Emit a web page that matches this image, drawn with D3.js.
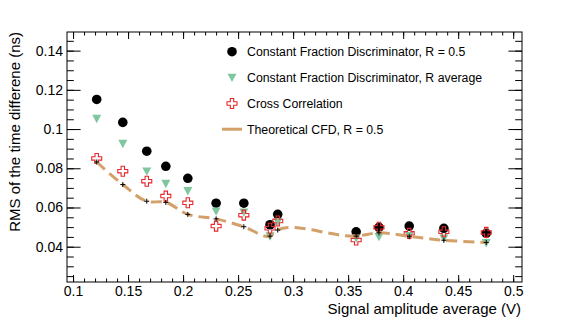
<!DOCTYPE html>
<html>
<head>
<meta charset="utf-8">
<script src="https://cdn.jsdelivr.net/npm/d3@7"></script>
<style>
  body { margin: 0; background: #fff; }
  text { font-family: "Liberation Sans", Arial, sans-serif; }
</style>
</head>
<body>
<div id="chart"></div>
<script>
// signal amplitude average (V) for each measurement
const amplitude = [0.1215, 0.1452, 0.1670, 0.1843, 0.2043, 0.2300, 0.2552, 0.2790, 0.2860, 0.3573, 0.3780, 0.4055, 0.4370, 0.4755];
// RMS of the time difference (ns)
const cfdHalf   = [0.1151, 0.1034, 0.0887, 0.0810, 0.0749, 0.0622, 0.0622, 0.0512, 0.0565, 0.0476, 0.0499, 0.0505, 0.0494, 0.0468];
const cfdAvg    = [0.1053, 0.0926, 0.0785, 0.0722, 0.0685, 0.0581, 0.0576, 0.0454, 0.0527, 0.0443, 0.0451, 0.0456, 0.0443, 0.0420];
const crossCorr = [0.0850, 0.0785, 0.0734, 0.0658, 0.0624, 0.0505, 0.0561, 0.0494, 0.0531, 0.0434, 0.0499, 0.0468, 0.0476, 0.0473];
const theoCfd   = [0.0832, 0.0717, 0.0632, 0.0626, 0.0565, 0.0542, 0.0502, 0.0454, 0.0485, 0.0454, 0.0471, 0.0453, 0.0433, 0.0422];

const xTicks = [0.1, 0.15, 0.2, 0.25, 0.3, 0.35, 0.4, 0.45, 0.5];
const yTicks = [0.04, 0.06, 0.08, 0.1, 0.12, 0.14];
const legendLabels = [
  "Constant Fraction Discriminator, R = 0.5",
  "Constant Fraction Discriminator, R average",
  "Cross Correlation",
  "Theoretical CFD, R = 0.5"
];

const W = 581, H = 326;
const margin = { top: 32, right: 59, bottom: 44, left: 67 },
  width = W - margin.left - margin.right,
  height = H - margin.top - margin.bottom;

const colGreen = "#7fc79f", colRed = "#e8262b", colLine = "#d4a06a";

const svg = d3.select("#chart").append("svg")
  .attr("width", W)
  .attr("height", H);

const g = svg.append("g")
  .attr("transform", "translate(" + margin.left + "," + margin.top + ")");

const x = d3.scaleLinear().domain([0.0945, 0.508]).range([0, width]);
const y = d3.scaleLinear().domain([0.022, 0.1495]).range([height, 0]);

const xMinor = d3.range(0.1, 0.5051, 0.01);
const yMinor = d3.range(0.025, 0.1496, 0.005);

const fmt = d => String(+d.toFixed(3));

// ROOT style: ticks point inward
function drawAxis(axis, transform, labels) {
  const a = g.append("g").attr("transform", transform).call(axis);
  a.select(".domain").remove();
  a.selectAll("line").attr("stroke", "#000");
  if (!labels) a.selectAll("text").remove();
  return a;
}

drawAxis(d3.axisBottom(x).tickValues(xMinor).tickSize(-3.5).tickFormat(""), "translate(0," + height + ")", false);
drawAxis(d3.axisTop(x).tickValues(xMinor).tickSize(-3.5).tickFormat(""), "translate(0,0)", false);
const xa = drawAxis(d3.axisBottom(x).tickValues(xTicks).tickSize(-7).tickPadding(4).tickFormat(fmt), "translate(0," + height + ")", true);
drawAxis(d3.axisTop(x).tickValues(xTicks).tickSize(-7).tickFormat(""), "translate(0,0)", false);

drawAxis(d3.axisLeft(y).tickValues(yMinor).tickSize(-6.8).tickFormat(""), "translate(0,0)", false);
drawAxis(d3.axisRight(y).tickValues(yMinor).tickSize(-6.8).tickFormat(""), "translate(" + width + ",0)", false);
const ya = drawAxis(d3.axisLeft(y).tickValues(yTicks).tickSize(-13.6).tickPadding(4).tickFormat(fmt), "translate(0,0)", true);
drawAxis(d3.axisRight(y).tickValues(yTicks).tickSize(-13.6).tickFormat(""), "translate(" + width + ",0)", false);

xa.selectAll("text").attr("font-size", 14).attr("fill", "#000")
  .attr("font-family", "Liberation Sans, Arial, sans-serif");
ya.selectAll("text").attr("font-size", 14).attr("fill", "#000")
  .attr("font-family", "Liberation Sans, Arial, sans-serif");

g.append("rect")
  .attr("width", width).attr("height", height)
  .attr("fill", "none").attr("stroke", "#000").attr("stroke-width", 1);

// axis titles
svg.append("text")
  .attr("x", margin.left + width - 1).attr("y", 314)
  .attr("text-anchor", "end").attr("font-size", 15)
  .text("Signal amplitude average (V)");
svg.append("text")
  .attr("transform", "translate(20," + margin.top + ") rotate(-90)")
  .attr("text-anchor", "end").attr("font-size", 15)
  .text("RMS of the time differene (ns)");

// marker shapes
const triPath = "M-4.5,-3.8L4.5,-3.8L0,4.6Z";
const s = 5, a = 1.7;
const crossPath = `M${-a},${-s}L${a},${-s}L${a},${-a}L${s},${-a}L${s},${a}L${a},${a}L${a},${s}L${-a},${s}L${-a},${a}L${-s},${a}L${-s},${-a}L${-a},${-a}Z`;

const pts = arr => arr.map((v, i) => [amplitude[i], v]);

g.selectAll(".cfd-half").data(pts(cfdHalf)).enter().append("circle")
  .attr("class", "cfd-half")
  .attr("cx", d => x(d[0])).attr("cy", d => y(d[1]))
  .attr("r", 4.8).attr("fill", "#000");

g.selectAll(".cfd-avg").data(pts(cfdAvg)).enter().append("path")
  .attr("class", "cfd-avg")
  .attr("transform", d => "translate(" + x(d[0]) + "," + y(d[1]) + ")")
  .attr("d", triPath).attr("fill", colGreen);

g.selectAll(".cross").data(pts(crossCorr)).enter().append("path")
  .attr("class", "cross")
  .attr("transform", d => "translate(" + x(d[0]) + "," + y(d[1]) + ")")
  .attr("d", crossPath).attr("fill", "none").attr("stroke", colRed).attr("stroke-width", 1.1);

// smooth dashed curve through the theory points
const line = d3.line()
  .x(d => x(d[0])).y(d => y(d[1]))
  .curve(d3.curveCatmullRom.alpha(0.8));

g.append("path")
  .datum(pts(theoCfd))
  .attr("d", line)
  .attr("fill", "none")
  .attr("stroke", colLine)
  .attr("stroke-width", 3)
  .attr("stroke-dasharray", "11,6");

g.selectAll(".theo").data(pts(theoCfd)).enter().append("path")
  .attr("class", "theo")
  .attr("transform", d => "translate(" + x(d[0]) + "," + y(d[1]) + ")")
  .attr("d", "M-2.5,0H2.5M0,-2.5V2.5")
  .attr("stroke", "#000").attr("stroke-width", 1);

// legend
const leg = svg.append("g").attr("transform", "translate(232,0)");
const rowsY = [51.7, 77.5, 103.5, 129.2];
leg.append("circle").attr("cx", 0).attr("cy", rowsY[0]).attr("r", 4.8).attr("fill", "#000");
leg.append("path").attr("transform", "translate(0," + rowsY[1] + ")").attr("d", triPath).attr("fill", colGreen);
leg.append("path").attr("transform", "translate(0," + rowsY[2] + ")").attr("d", crossPath)
  .attr("fill", "none").attr("stroke", colRed).attr("stroke-width", 1.1);
leg.append("line").attr("x1", -10).attr("x2", 10).attr("y1", rowsY[3]).attr("y2", rowsY[3])
  .attr("stroke", colLine).attr("stroke-width", 3);
leg.selectAll(".lt").data(legendLabels).enter().append("text")
  .attr("class", "lt")
  .attr("x", 15).attr("y", (d, i) => rowsY[i] + 4.4)
  .attr("font-size", 12.3)
  .text(d => d);
</script>
</body>
</html>
